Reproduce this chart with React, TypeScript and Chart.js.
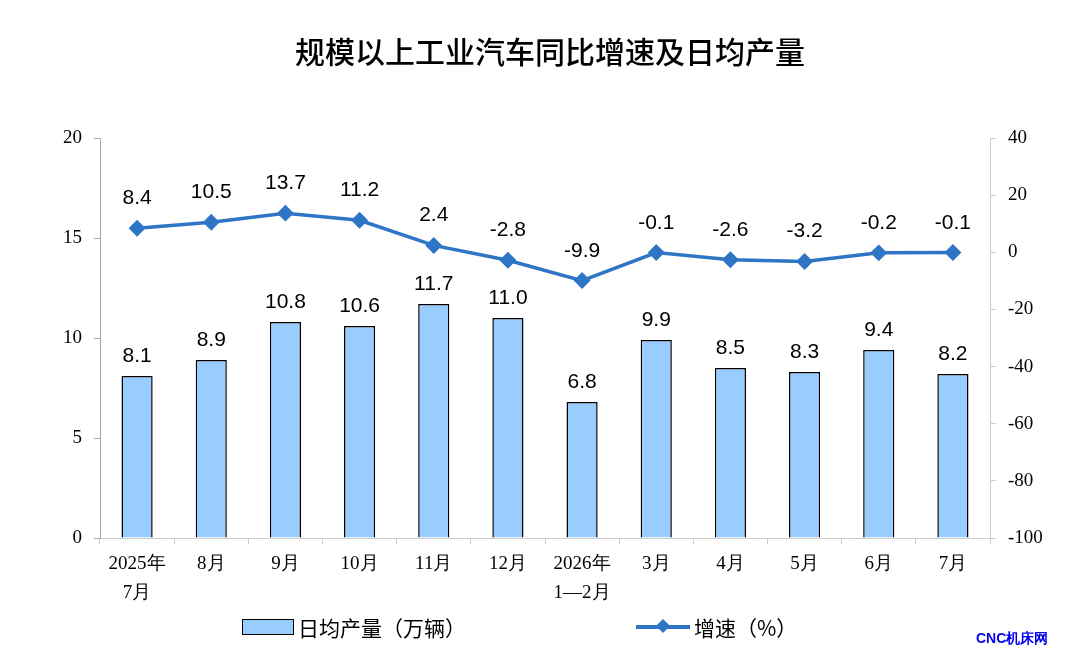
import React, { useEffect, useRef } from "react";
import { Chart, registerables } from "chart.js";
Chart.register(...registerables);

const categories = [["2025年", "7月"], "8月", "9月", "10月", "11月", "12月", ["2026年", "1—2月"], "3月", "4月", "5月", "6月", "7月"];
const dailyOutput = [8.1, 8.9, 10.8, 10.6, 11.7, 11.0, 6.8, 9.9, 8.5, 8.3, 9.4, 8.2];
const growth = [8.4, 10.5, 13.7, 11.2, 2.4, -2.8, -9.9, -0.1, -2.6, -3.2, -0.2, -0.1];

const labelPlugin = {
  id: "vals",
  afterDatasetsDraw(chart: any) {
    const ctx = chart.ctx;
    ctx.save();
    ctx.font = "21px 'Liberation Sans', Arial, sans-serif";
    ctx.fillStyle = "#000";
    ctx.textAlign = "center";
    ctx.textBaseline = "alphabetic";
    chart.getDatasetMeta(0).data.forEach((el: any, i: number) => {
      ctx.fillText(dailyOutput[i].toFixed(1), el.x, el.y - 14);
    });
    chart.getDatasetMeta(1).data.forEach((el: any, i: number) => {
      ctx.fillText(growth[i].toFixed(1), el.x, el.y - 24);
    });
    ctx.restore();
  },
};

export default function App() {
  const ref = useRef<HTMLCanvasElement>(null);
  useEffect(() => {
    const chart = new Chart(ref.current!, {
      type: "bar",
      data: {
        labels: categories as any,
        datasets: [
          {
            type: "bar",
            data: dailyOutput,
            backgroundColor: "#99CCFF",
            borderColor: "#000",
            borderWidth: 1.5,
            barPercentage: 0.42,
            categoryPercentage: 1,
            yAxisID: "y",
            order: 2,
          },
          {
            type: "line",
            data: growth,
            borderColor: "#2E75C6",
            backgroundColor: "#2E75C6",
            borderWidth: 3.5,
            pointStyle: "rectRot",
            pointRadius: 6,
            yAxisID: "y1",
            order: 1,
          } as any,
        ],
      },
      options: {
        animation: false,
        responsive: false,
        layout: { padding: { left: 0, right: 0, top: 138, bottom: 0 } },
        plugins: { legend: { display: false }, tooltip: { enabled: false } },
        scales: {
          x: {
            offset: true,
            grid: { offset: true, drawOnChartArea: false, tickLength: 6, color: "#ccc" },
            border: { color: "#ccc" },
            ticks: { font: { family: "'Liberation Serif', serif", size: 19, lineHeight: 1.5 }, color: "#000", maxRotation: 0, autoSkip: false, padding: 6 },
            afterFit: (s: any) => { s.height = 130; },
          },
          y: {
            min: 0, max: 20,
            ticks: { stepSize: 5, font: { family: "'Liberation Serif', serif", size: 19 }, color: "#000", padding: 12 },
            grid: { drawOnChartArea: false, tickLength: 6, color: "#aaa" },
            border: { color: "#aaa" },
            afterFit: (s: any) => { s.width = 100; },
          },
          y1: {
            position: "right",
            min: -100, max: 40,
            ticks: { stepSize: 20, font: { family: "'Liberation Serif', serif", size: 19 }, color: "#000", padding: 12 },
            grid: { drawOnChartArea: false, tickLength: 6, color: "#ccc" },
            border: { color: "#ccc" },
            afterFit: (s: any) => { s.width = 90; },
          },
        },
      },
      plugins: [labelPlugin],
    });
    return () => chart.destroy();
  }, []);
  return (
    <div style={{ position: "fixed", left: 0, top: 0, width: 1080, height: 668, background: "#fff" }}>
      <canvas ref={ref} width={1080} height={668} style={{ position: "absolute", left: 0, top: 0 }} />
      <div style={{ position: "absolute", top: 28, width: 1100, textAlign: "center", fontFamily: "'Noto Sans CJK SC', sans-serif", fontSize: 30, fontWeight: 500, color: "#000" }}>
        规模以上工业汽车同比增速及日均产量
      </div>
      <div style={{ position: "absolute", top: 612, left: 242, display: "flex", alignItems: "center", fontFamily: "'Noto Sans CJK SC', sans-serif", fontSize: 21, color: "#000" }}>
        <span style={{ display: "inline-block", width: 50, height: 14, background: "#99CCFF", border: "1.5px solid #000", marginRight: 4 }} />
        日均产量（万辆）
      </div>
      <div style={{ position: "absolute", top: 612, left: 636, display: "flex", alignItems: "center", fontFamily: "'Noto Sans CJK SC', sans-serif", fontSize: 21, color: "#000" }}>
        <span style={{ position: "relative", display: "inline-block", width: 54, height: 4, background: "#2E75C6", marginRight: 4 }}>
          <span style={{ position: "absolute", left: 22, top: -4, width: 10, height: 10, background: "#2E75C6", transform: "rotate(45deg)" }} />
        </span>
        增速（%）
      </div>
      <div style={{ position: "absolute", top: 630, left: 976, fontFamily: "'Liberation Sans', sans-serif", fontSize: 14, fontWeight: 700, color: "#0000ee" }}>
        CNC机床网
      </div>
    </div>
  );
}
